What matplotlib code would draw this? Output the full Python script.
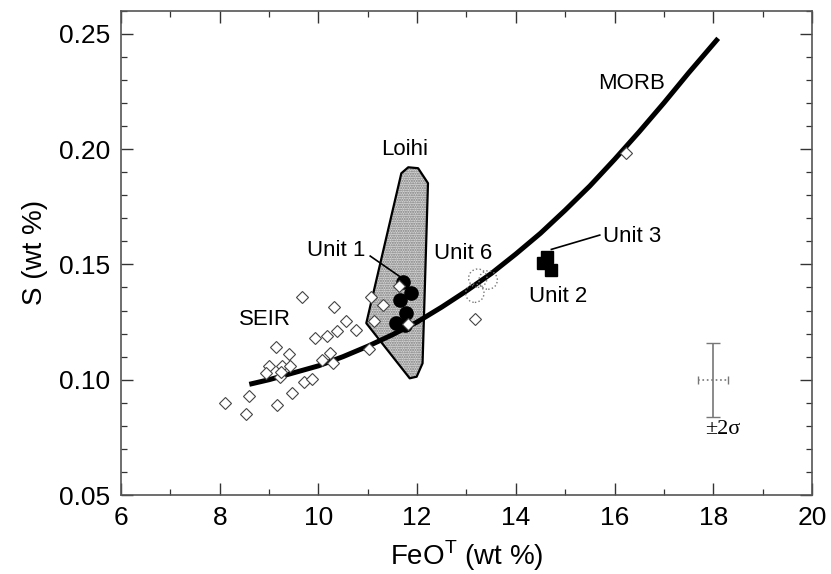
import numpy as np
import matplotlib.pyplot as plt
from matplotlib.patches import Polygon
from matplotlib.ticker import MultipleLocator

plt.rcParams['font.family'] = ['Liberation Sans', 'DejaVu Sans']

# MORB trend line
morb_x = [8.6, 9.0, 9.5, 10.0, 10.5, 11.0, 11.5, 12.0, 12.5, 13.0, 13.5, 14.0,
          14.5, 15.0, 15.5, 16.0, 16.5, 17.0, 17.5, 18.1]
morb_y = [0.098, 0.100, 0.103, 0.106, 0.110, 0.1145, 0.1195, 0.125, 0.1315, 0.1385,
          0.146, 0.1545, 0.1635, 0.1735, 0.184, 0.1955, 0.2075, 0.220, 0.233, 0.248]

# open diamonds (SEIR glasses + MORB)
seir_x = [9.67, 10.31, 11.07, 11.31, 11.12, 10.77, 11.03, 10.55, 9.93, 10.18, 10.37,
          9.14, 9.41, 9.00, 8.93, 9.27, 9.43, 9.22, 9.25, 10.24, 10.07, 10.30,
          9.70, 9.87, 8.59, 8.11, 8.53, 9.16, 9.47, 13.17, 16.24]
seir_y = [0.1357, 0.1317, 0.1360, 0.1324, 0.1256, 0.1216, 0.1133, 0.1256, 0.1182, 0.1190, 0.1211,
          0.1140, 0.1110, 0.1059, 0.1028, 0.1059, 0.1059, 0.1013, 0.1035, 0.1114, 0.1085, 0.1074,
          0.0991, 0.1002, 0.0929, 0.0898, 0.0851, 0.0890, 0.0941, 0.1263, 0.1985]

# Loihi field outline
loihi_x = [11.68, 11.82, 12.02, 12.22, 12.11, 11.99, 11.85, 10.97]
loihi_y = [0.1895, 0.1921, 0.1917, 0.1852, 0.1071, 0.1013, 0.1006, 0.1245]

# Unit 1 (filled circles)
unit1_x = [11.72, 11.88, 11.65, 11.78, 11.58, 11.75]
unit1_y = [0.1425, 0.1375, 0.1346, 0.1288, 0.1245, 0.1237]
unit1_in_x = [11.63, 11.82]
unit1_in_y = [0.1406, 0.1242]

# Unit 6 (open circles)
unit6_x = [13.23, 13.44, 13.17]
unit6_y = [0.1440, 0.1432, 0.1375]

# Unit 2 / Unit 3 (filled squares)
unit2_x = [14.55, 14.72, 14.63]
unit2_y = [0.1505, 0.1476, 0.1530]

fig = plt.figure(figsize=(8.31, 5.74), dpi=100)
ax = fig.add_axes([0.1456, 0.1376, 0.8315, 0.8438])

# Loihi field: stippled fill + outline
ax.add_patch(Polygon(np.column_stack([loihi_x, loihi_y]), closed=True,
                     facecolor='#d6d6d6', edgecolor='#7a7a7a', hatch='.......', lw=0, zorder=1))
ax.add_patch(Polygon(np.column_stack([loihi_x, loihi_y]), closed=True,
                     fill=False, edgecolor='black', lw=1.6, joinstyle='round', zorder=2))

ax.plot(morb_x, morb_y, color='black', lw=3.6, solid_capstyle='butt',
        solid_joinstyle='round', zorder=3)

ax.plot(seir_x, seir_y, 'D', ms=6, mfc='white', mec='#444444', mew=0.8, zorder=4)

ax.plot(unit1_x, unit1_y, 'o', ms=9.5, color='black', zorder=5)
ax.plot(unit1_in_x, unit1_in_y, 'D', ms=6, mfc='white', mec='#444444', mew=0.8, zorder=6)

ax.scatter(unit6_x, unit6_y, s=175, facecolors='none', edgecolors='#777777',
           linestyles=':', linewidths=1.0, zorder=5)

ax.plot(unit2_x, unit2_y, 's', ms=8, color='black', zorder=5)

# 2 sigma error bar
ax.errorbar([18.0], [0.100], yerr=[[0.016], [0.016]], fmt='none', ecolor='#777777',
            elinewidth=1.2, capsize=5, capthick=1.0, zorder=4)
eb = ax.errorbar([18.0], [0.100], xerr=[[0.3], [0.3]], fmt='none', ecolor='#777777',
                 elinewidth=1.2, capsize=3, capthick=1.0, zorder=4)
eb[2][0].set_linestyle(':')

# labels
ax.text(8.91, 0.1259, 'SEIR', fontsize=16, ha='center', va='center')
ax.text(16.35, 0.2284, 'MORB', fontsize=16, ha='center', va='center')
ax.text(11.75, 0.1996, 'Loihi', fontsize=16, ha='center', va='center')
ax.text(10.35, 0.1562, 'Unit 1', fontsize=16, ha='center', va='center')
ax.plot([11.05, 11.65], [0.1536, 0.1447], color='black', lw=1.2, zorder=4)
ax.text(12.94, 0.1547, 'Unit 6', fontsize=16, ha='center', va='center')
ax.text(14.85, 0.1359, 'Unit 2', fontsize=16, ha='center', va='center')
ax.text(15.76, 0.1619, 'Unit 3', fontsize=16, ha='left', va='center')
ax.plot([14.72, 15.70], [0.1565, 0.1627], color='black', lw=1.2, zorder=4)
ax.text(18.19, 0.0782, '±2σ', fontsize=16, ha='center', va='center',
        family=['Liberation Serif', 'DejaVu Serif'])

ax.set_xlim(6, 20)
ax.set_ylim(0.05, 0.26)
ax.xaxis.set_major_locator(MultipleLocator(2))
ax.xaxis.set_minor_locator(MultipleLocator(1))
ax.yaxis.set_minor_locator(MultipleLocator(0.01))
ax.set_yticks([0.05, 0.10, 0.15, 0.20, 0.25])
ax.set_yticklabels(['0.05', '0.10', '0.15', '0.20', '0.25'])
ax.tick_params(which='both', direction='in', top=True, right=True, color='#333333')
ax.tick_params(which='major', length=8.5, width=1.0, labelsize=19, pad=8)
ax.tick_params(which='minor', length=4, width=0.9)
for s in ax.spines.values():
    s.set_color('#555555')
    s.set_linewidth(1.2)

ax.set_xlabel(r'FeO$^{\mathregular{T}}$ (wt %)', fontsize=20, labelpad=6)
ax.set_ylabel('S (wt %)', fontsize=20, labelpad=8)

fig.savefig('out.png', dpi=100)
